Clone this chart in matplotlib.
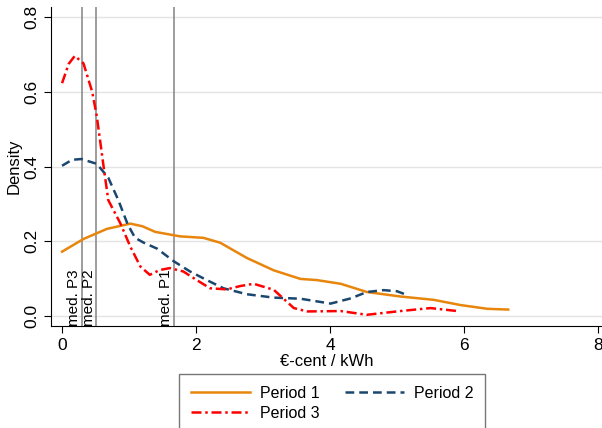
"""Kernel density of price per period with median markers."""

import matplotlib
matplotlib.use("Agg")
import matplotlib.pyplot as plt

# Period 1 density
p1_x = [0.0, 0.32, 0.67, 1.02, 1.2, 1.39, 1.76, 2.11, 2.36, 2.76, 3.16, 3.56, 3.8,
        4.16, 4.55, 5.05, 5.55, 5.95, 6.35, 6.66]
p1_y = [0.172, 0.206, 0.233, 0.247, 0.24, 0.225, 0.213, 0.209, 0.196, 0.155,
        0.122, 0.099, 0.096, 0.086, 0.064, 0.052, 0.043, 0.029, 0.019, 0.017]

# Period 2 density
p2_x = [0.0, 0.15, 0.29, 0.52, 0.69, 0.84, 0.98, 1.09, 1.22, 1.42, 1.67, 1.91,
        2.16, 2.41, 2.76, 3.16, 3.56, 4.01, 4.31, 4.55, 4.8, 5.0, 5.15]
p2_y = [0.402, 0.418, 0.42, 0.407, 0.37, 0.31, 0.245, 0.209, 0.196, 0.18, 0.146,
        0.119, 0.096, 0.074, 0.058, 0.049, 0.046, 0.033, 0.047, 0.064, 0.069,
        0.066, 0.056]

# Period 3 density
p3_x = [0.0, 0.1, 0.19, 0.32, 0.45, 0.52, 0.62, 0.69, 0.87, 1.02, 1.17, 1.31,
        1.46, 1.61, 1.81, 2.01, 2.21, 2.46, 2.66, 2.86, 3.16, 3.46, 3.66, 4.16,
        4.55, 5.05, 5.5, 5.9]
p3_y = [0.623, 0.675, 0.696, 0.676, 0.6, 0.533, 0.4, 0.31, 0.248, 0.185, 0.132,
        0.11, 0.123, 0.128, 0.119, 0.096, 0.074, 0.071, 0.08, 0.086, 0.07,
        0.021, 0.012, 0.013, 0.003, 0.013, 0.021, 0.013]

medians = [1.67, 0.51, 0.30]
median_labels = ["med. P1", "med. P2", "med. P3"]

x_ticks = [0, 2, 4, 6, 8]
y_ticks = [0.0, 0.2, 0.4, 0.6, 0.8]

plt.rcParams["font.family"] = ["Liberation Sans", "DejaVu Sans"]

fig = plt.figure(figsize=(6.02, 4.28), dpi=100)
ax = fig.add_axes([51 / 602, 1 - 326 / 428, 551 / 602, 319 / 428])

for y in y_ticks:
    ax.axhline(y, color="#e4e4e4", linewidth=1.0, zorder=0)

for m, lab in zip(medians, median_labels):
    ax.axvline(m, color="#8c8c8c", linewidth=1.2, zorder=1)
    ax.text(m - 0.01, -0.026, lab, rotation=90, ha="right", va="bottom",
            fontsize=11, color="black")

ax.plot(p1_x, p1_y, color="#E8850C", linewidth=1.8, label="Period 1", zorder=3)
ax.plot(p2_x, p2_y, color="#1A476F", linewidth=1.8, linestyle=(0, (3.5, 2)),
        label="Period 2", zorder=3)
ax.plot(p3_x, p3_y, color="#FF0000", linewidth=1.8,
        linestyle=(0, (4, 1.5, 1, 1.5)), label="Period 3", zorder=3)

ax.set_xlim(-0.165, 8.06)
ax.set_ylim(-0.027, 0.827)
ax.set_xticks(x_ticks)
ax.set_yticks(y_ticks)
ax.set_yticklabels([f"{v:.1f}" for v in y_ticks], rotation=90, va="center")
ax.tick_params(labelsize=12.5, direction="out", length=5)

ax.spines["top"].set_visible(False)
ax.spines["right"].set_visible(False)

ax.set_xlabel("€-cent / kWh", fontsize=12, labelpad=1)
ax.set_ylabel("Density", fontsize=12, labelpad=2)

handles, labels = ax.get_legend_handles_labels()
order = [0, 2, 1]
leg = fig.legend([handles[i] for i in order], [labels[i] for i in order],
                 ncol=2, loc="upper left", bbox_to_anchor=(179 / 602, 1 - 374 / 428),
                 borderaxespad=0, frameon=True, fancybox=False, fontsize=11.5,
                 handlelength=3.7, handletextpad=0.6, columnspacing=1.6,
                 borderpad=0.75, labelspacing=0.3)
leg.get_frame().set_edgecolor("#555555")
leg.get_frame().set_linewidth(1.0)

fig.savefig("out.png", dpi=100)
